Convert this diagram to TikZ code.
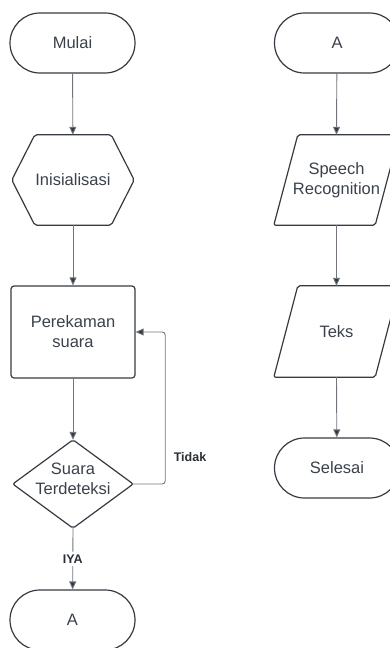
\documentclass[tikz,border=0pt]{standalone}
\usepackage{fontspec}
\setmainfont{Liberation Sans}
\usetikzlibrary{arrows.meta,calc}
\definecolor{txt}{HTML}{3A414B}
\definecolor{edge}{HTML}{353A42}
\definecolor{conn}{HTML}{70757C}
\definecolor{lab}{HTML}{2B2F36}
\begin{document}
\begin{tikzpicture}[x=1pt,y=-1pt,
  every node/.style={font=\fontsize{16.5}{20}\selectfont, text=txt, align=center, inner sep=0pt},
  term/.style={draw=edge, line width=1.2pt, rounded corners=30pt, minimum width=125pt, minimum height=60pt},
  procbox/.style={draw=edge, line width=1.2pt, rounded corners=3pt, minimum width=124pt, minimum height=92pt},
  outline/.style={draw=edge, line width=1.2pt, rounded corners=2pt},
  conn/.style={draw=conn, line width=0.9pt, -{Triangle[length=8pt,width=7pt,fill=edge]}, rounded corners=3pt},
  lbl/.style={font=\bfseries\fontsize{12.5}{15}\selectfont, text=lab}]
\useasboundingbox (0,0) rectangle (390,648);
% left column
\node[term] (mulai) at (72.5,43) {Mulai};
\node[minimum width=122pt, minimum height=90pt] (init) at (73,180) {Inisialisasi};
\draw[outline] (init.west) -- ($(init.north west)+(23,0)$) -- ($(init.north east)+(-23,0)$) -- (init.east) -- ($(init.south east)+(-23,0)$) -- ($(init.south west)+(23,0)$) -- cycle;
\node[procbox] (rec) at (73,332) {Perekaman\\suara};
\node[minimum width=120pt, minimum height=88pt] (dec) at (73,484) {};
\draw[outline] (dec.north) -- (dec.east) -- (dec.south) -- (dec.west) -- cycle;
\node at (73,479) {Suara\\Terdeteksi};
\node[term] (a1) at (72.5,620) {A};
% right column
\node[term] (a2) at (337,43) {A};
\node[minimum width=125pt, minimum height=90pt] (sr) at (336.5,180) {Speech\\Recognition};
\draw[outline] ($(sr.north west)+(24,0)$) -- (sr.north east) -- ($(sr.south east)+(-24,0)$) -- (sr.south west) -- cycle;
\node[minimum width=125pt, minimum height=91pt] (teks) at (336.5,331.5) {Teks};
\draw[outline] ($(teks.north west)+(24,0)$) -- (teks.north east) -- ($(teks.south east)+(-24,0)$) -- (teks.south west) -- cycle;
\node[term] (sel) at (337,468) {Selesai};
% connectors
\draw[conn] (mulai) -- (init);
\draw[conn] (init) -- (rec);
\draw[conn] (rec) -- (dec.north);
\draw[conn] (dec.south) -- node[lbl, fill=white, inner ysep=3pt] {IYA} (a1);
\draw[conn] (dec.east) -- ++(32,0) |- (rec.east);
\node[lbl] (tidak) at (190,457) {Tidak};
\draw[conn] (a2) -- (sr.north);
\draw[conn] (sr.south) -- (teks.north);
\draw[conn] (teks.south) -- (sel);
\end{tikzpicture}
\end{document}
